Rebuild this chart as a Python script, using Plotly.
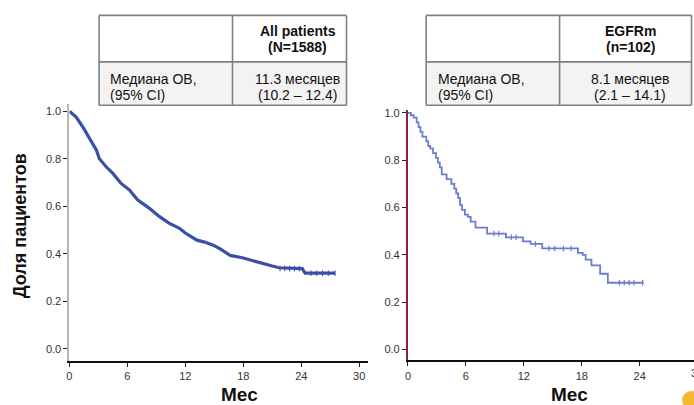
import plotly.graph_objects as go

W, H = 694, 405

# ---- data ----
all_t = [0, 0.7, 1.4, 2.1, 2.8, 3.1, 3.8, 4.5, 5.35, 6.2, 7.05, 8.25, 9.3, 10.3, 11.35,
         12.0, 13.2, 14.0, 14.95, 15.6, 16.65, 17.9, 19.6, 21.0, 21.7, 24.1, 24.4, 27.5]
all_s = [1.0, 0.975, 0.933, 0.884, 0.836, 0.80, 0.766, 0.738, 0.696, 0.669, 0.627, 0.592,
         0.557, 0.529, 0.508, 0.487, 0.457, 0.449, 0.435, 0.42, 0.393, 0.383, 0.362, 0.348,
         0.341, 0.337, 0.318, 0.318]
all_cens_t = [21.8, 22.3, 22.8, 23.3, 23.8, 25.0, 25.6, 26.2, 26.8, 27.5]
all_cens_s = [0.338, 0.338, 0.337, 0.337, 0.337, 0.318, 0.318, 0.318, 0.318, 0.318]

egfr_t = [0, 0.3, 0.6, 0.9, 1.1, 1.3, 1.5, 1.9, 2.1, 2.3, 2.6, 2.9, 3.1, 3.3, 3.5, 4.0, 4.5,
          4.8, 5.0, 5.2, 5.4, 5.6, 5.9, 6.2, 6.5, 7.0, 8.2, 10.15, 11.9, 12.7, 13.9, 17.6,
          18.1, 18.4, 19.0, 19.9, 20.7, 24.4]
egfr_s = [1.0, 0.99, 0.98, 0.96, 0.94, 0.92, 0.90, 0.88, 0.86, 0.85, 0.83, 0.81, 0.79, 0.77,
          0.74, 0.72, 0.70, 0.68, 0.66, 0.64, 0.61, 0.59, 0.57, 0.56, 0.54, 0.515, 0.49,
          0.474, 0.457, 0.446, 0.427, 0.408, 0.40, 0.38, 0.355, 0.32, 0.282, 0.282]
egfr_cens_t = [8.9, 9.4, 10.7, 11.2, 13.2, 14.6, 15.2, 16.1, 16.9, 21.9, 22.4, 22.9, 23.4, 24.3]
egfr_cens_s = [0.49, 0.49, 0.474, 0.474, 0.446, 0.427, 0.427, 0.427, 0.427,
               0.282, 0.282, 0.282, 0.282, 0.282]

x_ticks = [0, 6, 12, 18, 24, 30]
y_ticks = [0.0, 0.2, 0.4, 0.6, 0.8, 1.0]

table_left = {"header": ["All patients", "(N=1588)"],
              "label": ["Медиана ОВ,", "(95% CI)"],
              "value": ["11.3 месяцев", "(10.2 – 12.4)"]}
table_right = {"header": ["EGFRm", "(n=102)"],
               "label": ["Медиана ОВ,", "(95% CI)"],
               "value": ["8.1 месяцев", "(2.1 – 14.1)"]}
y_title = "Доля пациентов"
x_title = "Мес"

# ---- helpers ----
def px(x):
    return x / W

def py(y):
    return 1 - y / H

FONT = "Liberation Sans, Arial, sans-serif"
LEFT_COL = "#3b4ea8"
RIGHT_COL = "#6a7dd0"

fig = go.Figure()

fig.add_trace(go.Scatter(x=all_t, y=all_s, mode="lines", line=dict(color=LEFT_COL, width=3.2),
                         xaxis="x", yaxis="y", showlegend=False))
fig.add_trace(go.Scatter(x=all_cens_t, y=all_cens_s, mode="markers",
                         marker=dict(symbol="line-ns", size=4, line=dict(color=LEFT_COL, width=1)),
                         xaxis="x", yaxis="y", showlegend=False))
fig.add_trace(go.Scatter(x=egfr_t, y=egfr_s, mode="lines", line=dict(color=RIGHT_COL, width=1.8, shape="hv"),
                         xaxis="x2", yaxis="y2", showlegend=False))
fig.add_trace(go.Scatter(x=egfr_cens_t, y=egfr_cens_s, mode="markers",
                         marker=dict(symbol="line-ns", size=4, line=dict(color=RIGHT_COL, width=1.2)),
                         xaxis="x2", yaxis="y2", showlegend=False))

tickfont = dict(family=FONT, size=11, color="#333333")
common_x = dict(tickvals=x_ticks, ticks="outside", ticklen=4, tickwidth=1, tickcolor="#222",
                showline=True, linecolor="#111111", linewidth=2, showgrid=False, zeroline=False,
                tickfont=tickfont, fixedrange=True)
common_y = dict(tickvals=y_ticks, tickformat=".1f", ticks="outside", ticklen=4, tickwidth=1,
                tickcolor="#222", showline=True, linewidth=2, showgrid=False, zeroline=False,
                tickfont=tickfont, fixedrange=True)

fig.update_layout(
    width=W, height=H, margin=dict(l=0, r=0, t=0, b=0),
    paper_bgcolor="white", plot_bgcolor="white",
    xaxis=dict(domain=[px(66.7), px(366.5)], range=[0, 30.9], anchor="y", **common_x),
    yaxis=dict(domain=[py(360.7), py(101.7)], range=[-0.0518, 1.0305], anchor="x",
               linecolor="#b5b5b5", **common_y),
    xaxis2=dict(domain=[px(406.7), 1.0], range=[0, 29.62], anchor="y2", **common_x),
    yaxis2=dict(domain=[py(360), py(108)], range=[-0.046, 1.0113], anchor="x2",
                linecolor="#8b1c4e", **common_y),
)

shapes = []
annotations = []

def add_table(x0, xm, x1, tbl, val_cx, label_x):
    y0, ym, y1 = 12.5, 59.3, 103
    shapes.append(dict(type="rect", xref="paper", yref="paper", x0=px(x0), x1=px(x1),
                       y0=py(ym), y1=py(y1), fillcolor="#f3f3f3", line=dict(width=0), layer="below"))
    line = dict(color="#808080", width=1.6)
    for (a, b, c, d) in [(x0, y0, x1, y0), (x0, ym, x1, ym), (x0, y1, x1, y1),
                         (x0, y0, x0, y1), (xm, y0, xm, y1), (x1, y0, x1, y1)]:
        shapes.append(dict(type="line", xref="paper", yref="paper", x0=px(a), y0=py(b),
                           x1=px(c), y1=py(d), line=line))
    f = dict(family=FONT, size=14, color="#111111")
    for txt, yc in zip(tbl["header"], [27.8, 44.2]):
        annotations.append(dict(text="<b>%s</b>" % txt, x=px(val_cx), y=py(yc), xref="paper", yref="paper",
                                showarrow=False, xanchor="center", yanchor="middle", font=f))
    for txt, yc in zip(tbl["label"], [76.5, 92.5]):
        annotations.append(dict(text=txt, x=px(label_x), y=py(yc), xref="paper", yref="paper",
                                showarrow=False, xanchor="left", yanchor="middle", font=f))
    for txt, yc in zip(tbl["value"], [76.5, 92.5]):
        annotations.append(dict(text=txt, x=px(val_cx), y=py(yc), xref="paper", yref="paper",
                                showarrow=False, xanchor="center", yanchor="middle", font=f))

add_table(96.5, 230.5, 345, table_left, 296, 105)
add_table(425, 559, 691.5, table_right, 630, 435)

annotations.append(dict(text="<b>%s</b>" % y_title, x=px(17), y=py(224), xref="paper", yref="paper",
                        showarrow=False, textangle=-90, xanchor="center", yanchor="middle",
                        font=dict(family=FONT, size=18, color="#111111")))
for cx in (238, 569):
    annotations.append(dict(text="<b>%s</b>" % x_title, x=px(cx), y=py(394), xref="paper", yref="paper",
                            showarrow=False, xanchor="center", yanchor="middle",
                            font=dict(family=FONT, size=19, color="#111111")))
# the "30" tick of the right panel, cut by the image edge as in the reference
annotations.append(dict(text=str(x_ticks[-1]), x=px(697.3), y=py(372.5), xref="paper", yref="paper",
                        showarrow=False, xanchor="center", yanchor="middle", font=tickfont))

# small orange logo fragment in the corner
shapes.append(dict(type="circle", xref="paper", yref="paper", x0=px(682), x1=px(700),
                   y0=py(409), y1=py(391), fillcolor="#f5b82e", line=dict(width=0)))

fig.update_layout(shapes=shapes, annotations=annotations)
fig.write_html("out.html")
